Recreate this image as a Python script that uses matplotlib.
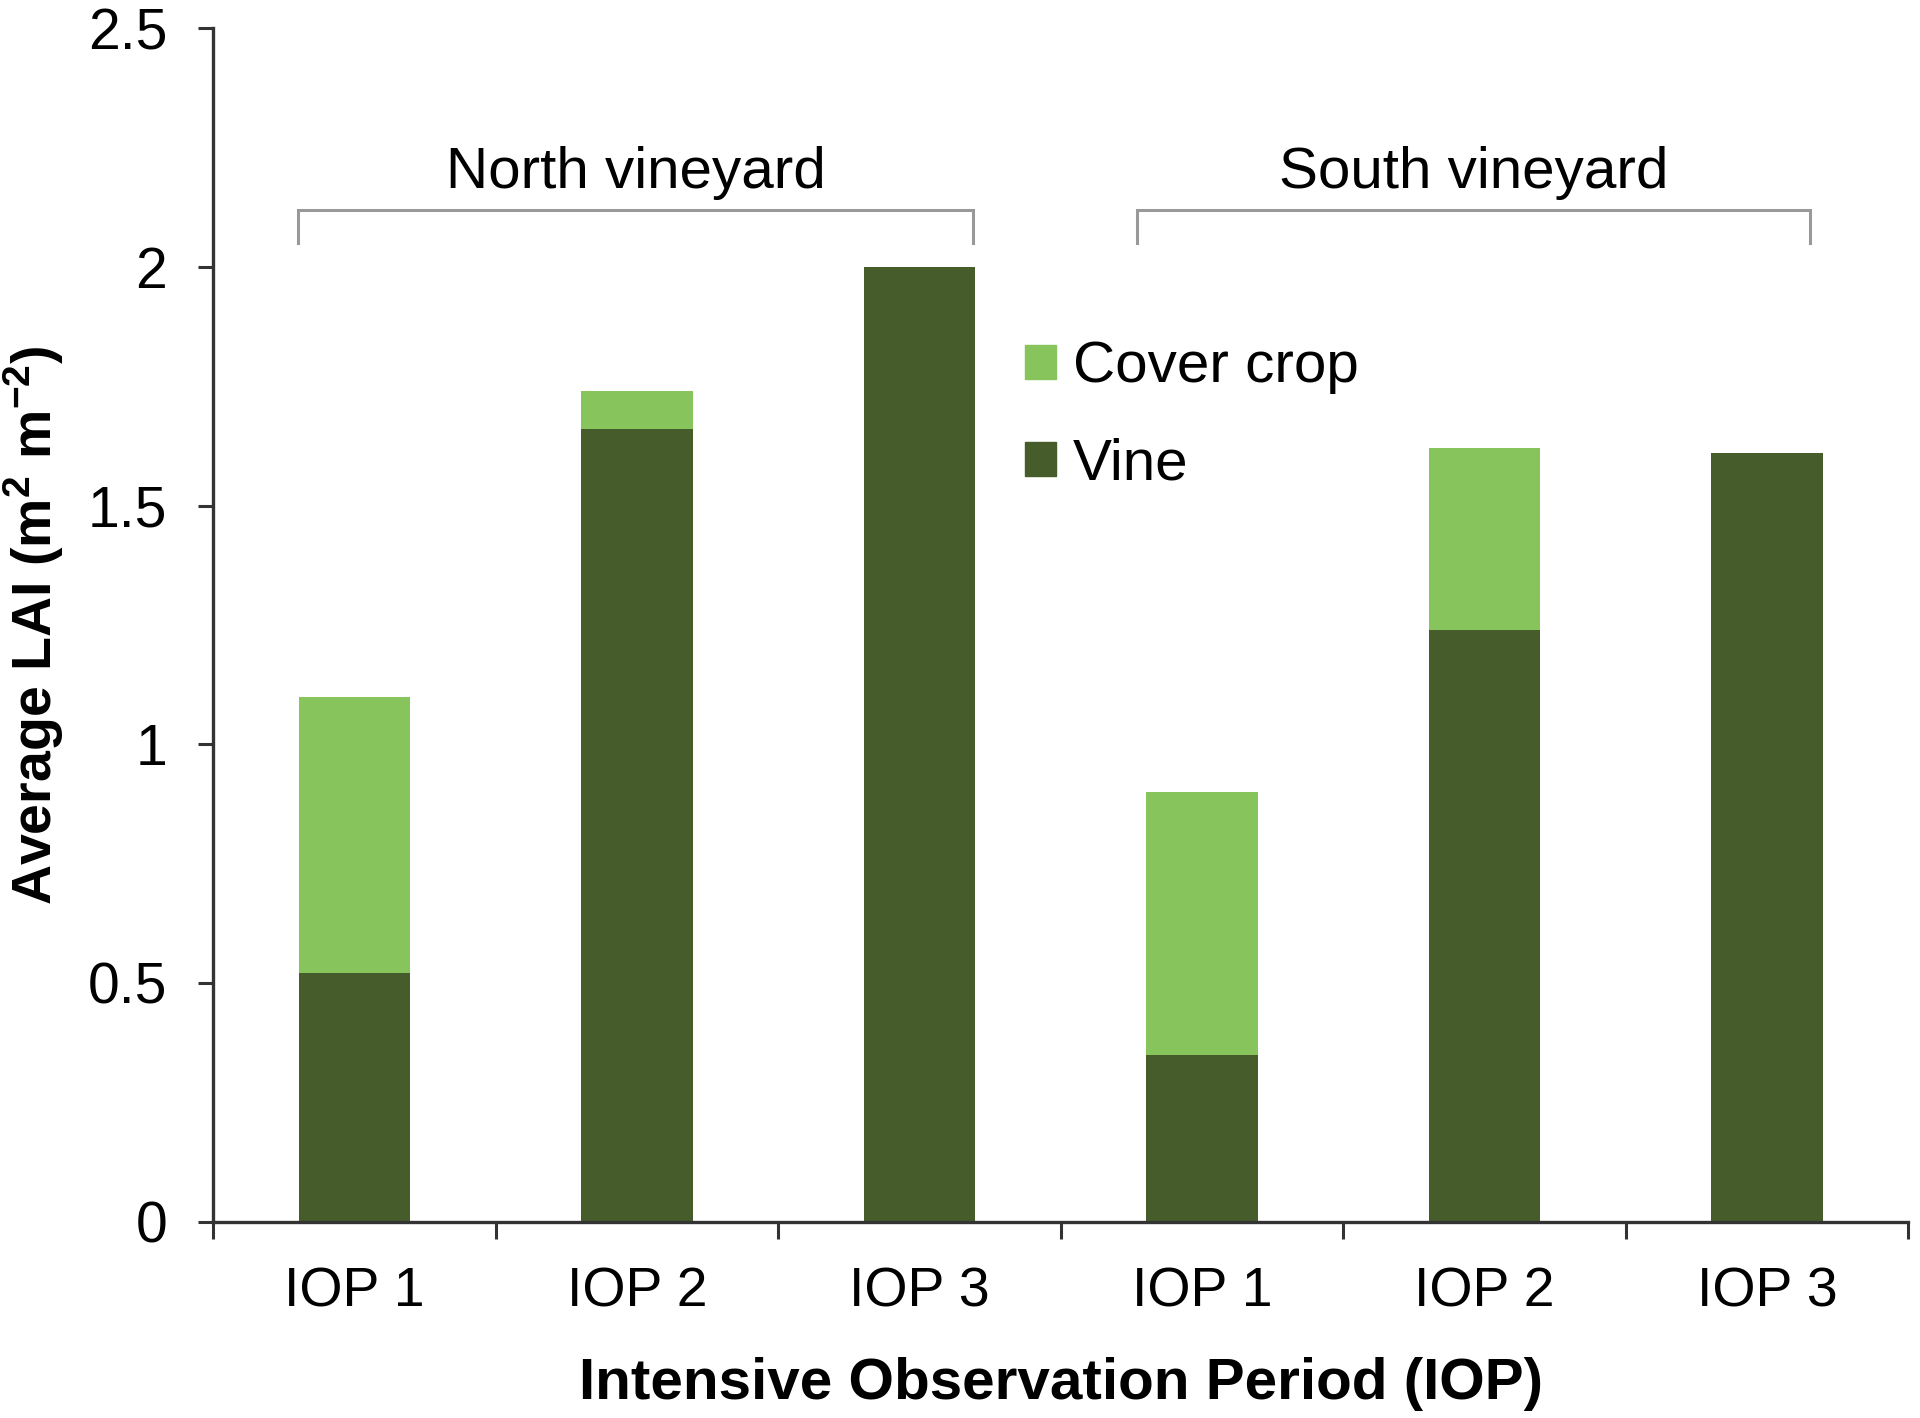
import numpy as np
import matplotlib
matplotlib.use('Agg')
import matplotlib.pyplot as plt
from matplotlib.patches import Patch

plt.rcParams['font.family'] = ['Liberation Sans', 'DejaVu Sans']
plt.rcParams['mathtext.fontset'] = 'custom'
plt.rcParams['mathtext.rm'] = 'Liberation Sans'
plt.rcParams['mathtext.bf'] = 'Liberation Sans:bold'

# data
periods = ['IOP 1', 'IOP 2', 'IOP 3', 'IOP 1', 'IOP 2', 'IOP 3']
vine = [0.52, 1.66, 2.00, 0.35, 1.24, 1.61]
total = [1.10, 1.74, 2.00, 0.90, 1.62, 1.61]
cover = [t - v for t, v in zip(total, vine)]
sites = ['North vineyard', 'South vineyard']

c_vine = '#465c2a'
c_cover = '#88c45c'
axcol = '#333333'
fs = 40
fs_big = 42

fig = plt.figure(figsize=(19.2, 14.18), dpi=100)
ax = fig.add_axes([0.111, 0.1385, 0.883, 0.8415])

x = np.arange(len(periods))
w = 0.395
ax.bar(x, vine, w, color=c_vine, label='Vine')
ax.bar(x, cover, w, bottom=vine, color=c_cover, label='Cover crop')

ax.set_xlim(-0.5, 5.5)
ax.set_ylim(0, 2.5)
ax.set_yticks([0, 0.5, 1, 1.5, 2, 2.5])
ax.set_yticklabels(['0', '0.5', '1', '1.5', '2', '2.5'])
ax.set_xticks(x)
ax.set_xticklabels(periods)
ax.set_xticks(np.arange(-0.5, 6, 1), minor=True)
ax.tick_params(axis='x', which='major', length=0, pad=32, labelsize=fs)
ax.tick_params(axis='x', which='minor', length=12, width=2.2, color=axcol, direction='out')
ax.tick_params(axis='y', length=11, width=2.2, color=axcol, pad=22, labelsize=41)

for s in ['top', 'right']:
    ax.spines[s].set_visible(False)
for s in ['left', 'bottom']:
    ax.spines[s].set_color(axcol)
    ax.spines[s].set_linewidth(2.4)

ax.set_ylabel(r'Average LAI (m$^{\mathbf{2}}$ m$^{\mathbf{-2}}$)', fontsize=fs,
              fontweight='bold', labelpad=16)
ax.set_xlabel('Intensive Observation Period (IOP)', fontsize=fs_big,
              fontweight='bold', labelpad=28)

# brackets over each vineyard (ends sit at the outer bar edges)
spans = [(-0.2, 2.19), (2.77, 5.15)]
for name, (x0, x1) in zip(sites, spans):
    ax.plot([x0, x0, x1, x1], [2.05, 2.12, 2.12, 2.05], color='#999999',
            lw=2.2, solid_joinstyle='miter')
    ax.text((x0 + x1) / 2, 2.198, name, ha='center', va='center', fontsize=fs_big)

handles = [Patch(color=c_cover, label='Cover crop'), Patch(color=c_vine, label='Vine')]
ax.legend(handles=handles, loc='upper left', bbox_to_anchor=(0.465, 0.758),
          frameon=False, fontsize=fs_big, handlelength=0.53, handleheight=0.53,
          handletextpad=0.29, labelspacing=0.74, borderaxespad=0)

fig.savefig('out.png', dpi=100)
